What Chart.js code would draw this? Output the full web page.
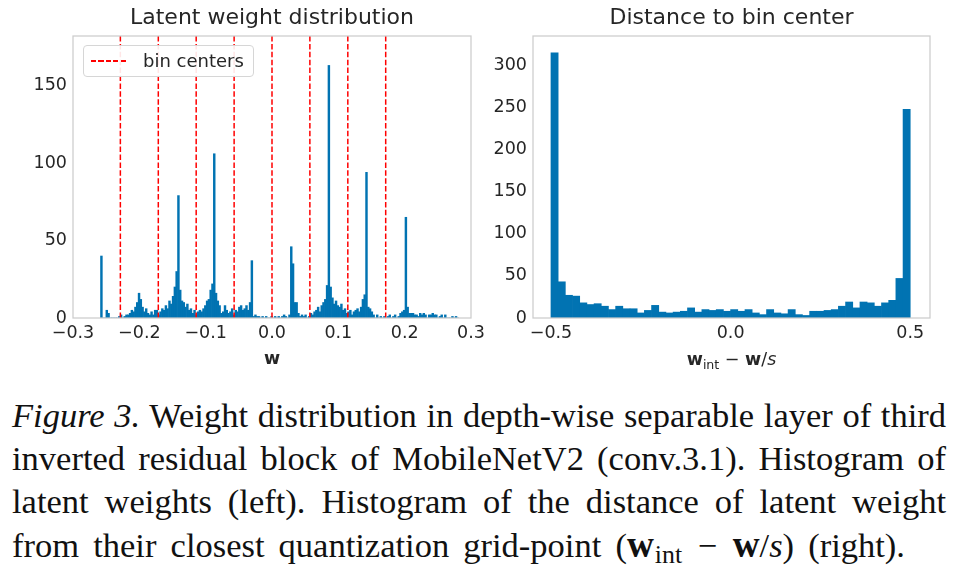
<!DOCTYPE html>
<html>
<head>
<meta charset="utf-8">
<script src="https://cdn.jsdelivr.net/npm/chart.js@4.4.1/dist/chart.umd.min.js"></script>
<style>
  body { margin: 0; width: 958px; height: 574px; background: #fff; position: relative; overflow: hidden; font-family: "DejaVu Sans"; color: #262626; }
  canvas { position: absolute; top: 0; }
  #leftChart { left: 0; }
  #rightChart { left: 490px; }
  .title { position: absolute; top: 4px; height: 26px; line-height: 26px; text-align: center; font-size: 22px; white-space: nowrap; }
  .legend { position: absolute; left: 83px; top: 45px; width: 169px; height: 30px; border: 1px solid #d6d6d6; border-radius: 4px; background: rgba(255,255,255,0.9); }
  .legend .sample { position: absolute; left: 7px; top: 14px; width: 37px; height: 1.6px;
    background: repeating-linear-gradient(to right, #ff0000 0 5.2px, transparent 5.2px 7.4px); }
  .legend .txt { position: absolute; left: 59px; top: 2px; line-height: 26px; font-size: 18px; }
  #rxlabel { position: absolute; left: 533px; width: 397px; top: 348px; text-align: center; font-size: 17.5px; line-height: 22px; }
  #rxlabel sub { font-size: 0.72em; vertical-align: -0.3em; line-height: 0; }
  .caption { position: absolute; left: 12px; top: 394px; width: 934px; font-family: "Liberation Serif"; font-size: 34.5px; line-height: 43px; color: #111; }
  .caption div { white-space: nowrap; text-align: justify; text-align-last: justify; }
  .caption div.last { width: 893px; }
  .caption sub { font-size: 0.75em; vertical-align: -0.25em; line-height: 0; margin-left: 0.04em; }
  .caption .op { display: inline-block; padding: 0 0.45em; }
  .caption .fb { font-size: 1.08em; }
</style>
</head>
<body>
<canvas id="leftChart" width="490" height="372"></canvas>
<canvas id="rightChart" width="468" height="372"></canvas>

<div class="title" style="left:73px; width:398px;">Latent weight distribution</div>
<div class="title" style="left:533px; width:397px;">Distance to bin center</div>

<div class="legend"><div class="sample"></div><div class="txt">bin centers</div></div>

<div id="rxlabel"><b>w</b><sub>int</sub> − <b>w</b>/<i>s</i></div>

<div class="caption">
  <div><i>Figure 3.</i> Weight distribution in depth-wise separable layer of third</div>
  <div>inverted residual block of MobileNetV2 (conv.3.1). Histogram of</div>
  <div>latent weights (left). Histogram of the distance of latent weight</div>
  <div class="last">from their closest quantization grid-point (<b class="fb">w</b><sub>int</sub><span class="op">−</span><b class="fb">w</b>/<i>s</i>) (right).</div>
</div>

<script>
// ===============================
// DATA
// ===============================
// left: latent weight histogram (200 bins)
const leftBinStart = -0.2585;
const leftBinWidth = 0.0027;
const leftCounts = [
  40, 0, 0, 5, 3, 0, 0, 0, 0, 0,
  1, 2, 0, 1, 2, 2, 3, 5, 4, 7,
  10, 16, 12, 7, 4, 6, 3, 2, 4, 2,
  5, 5, 2, 4, 6, 5, 8, 6, 11, 9,
  14, 20, 30, 79, 18, 11, 10, 7, 9, 5,
  6, 3, 5, 2, 4, 5, 4, 6, 8, 11,
  12, 18, 22, 106, 16, 11, 8, 3, 4, 8,
  5, 3, 4, 6, 2, 5, 4, 7, 8, 5,
  6, 8, 5, 10, 37, 1, 2, 1, 1, 0,
  1, 0, 1, 0, 0, 1, 0, 1, 0, 1,
  0, 1, 2, 1, 0, 2, 46, 35, 10, 10,
  3, 1, 2, 1, 2, 0, 1, 3, 2, 4,
  5, 7, 4, 8, 10, 12, 21, 163, 20, 13,
  9, 11, 8, 7, 9, 5, 6, 3, 4, 5,
  2, 4, 5, 6, 4, 7, 12, 15, 94, 7,
  6, 4, 2, 0, 2, 0, 1, 0, 1, 0,
  1, 2, 0, 1, 2, 0, 1, 3, 4, 5,
  65, 7, 3, 3, 3, 2, 2, 1, 3, 2,
  3, 2, 0, 2, 2, 3, 2, 2, 0, 1,
  2, 0, 2, 0, 0, 0, 1, 0, 1, 0
];
const binCenters = [-0.2286, -0.1714, -0.1143, -0.0571, 0, 0.0571, 0.1143, 0.1714];
const leftXTicks = [-0.3, -0.2, -0.1, 0, 0.1, 0.2, 0.3];
const leftYTicks = [0, 50, 100, 150];
const leftXMin = -0.3, leftXMax = 0.3, leftYMax = 182;

// right: distance to bin center (50 bins)
const rightBinStart = -0.5;
const rightBinWidth = 0.02;
const rightCounts = [
  315, 43, 27, 26, 18, 16, 17, 14, 10, 14,
  11, 11, 6, 9, 15, 7, 6, 7, 8, 12,
  7, 10, 9, 10, 8, 10, 8, 10, 6, 4,
  10, 6, 5, 10, 4, 3, 8, 8, 9, 10,
  14, 19, 12, 19, 18, 14, 18, 21, 47, 248
];
const rightXTicks = [-0.5, 0, 0.5];
const rightYTicks = [0, 50, 100, 150, 200, 250, 300];
const rightXMin = -0.55, rightXMax = 0.555, rightYMax = 335;

const barColor = "#0173b2";
const textColor = "#262626";

Chart.defaults.font.family = "DejaVu Sans";
Chart.defaults.color = textColor;

// ===============================
// HELPERS
// ===============================
function fmt(v) {
  if (Math.abs(v) < 1e-9) return "0.0";
  return (v < 0 ? "\u2212" : "") + Math.abs(v).toFixed(1);
}

function histPoints(start, width, counts) {
  return counts.map((c, i) => ({ x: start + (i + 0.5) * width, y: c }));
}

const framePlugin = {
  id: "frame",
  afterDatasetsDraw(chart) {
    const { ctx, chartArea: a } = chart;
    ctx.save();
    ctx.strokeStyle = "#cccccc";
    ctx.lineWidth = 1.25;
    ctx.strokeRect(a.left, a.top, a.right - a.left, a.bottom - a.top);
    ctx.restore();
  },
};

function makeScales(xMin, xMax, xTicks, yMax, yTicks, yWidth, xHeight, xTitle) {
  return {
    x: {
      type: "linear",
      min: xMin,
      max: xMax,
      offset: false,
      grid: { display: false, drawTicks: false },
      border: { display: false },
      afterBuildTicks: (s) => { s.ticks = xTicks.map((v) => ({ value: v })); },
      afterFit: (s) => { s.height = xHeight; },
      ticks: { font: { size: 17.5 }, padding: 5, maxRotation: 0, autoSkip: false, callback: (v) => fmt(v) },
      title: xTitle
        ? { display: true, text: xTitle, font: { size: 17.5, weight: "bold" }, padding: { top: 0, bottom: 2 } }
        : { display: false },
    },
    y: {
      min: 0,
      max: yMax,
      grid: { display: false, drawTicks: false },
      border: { display: false },
      afterBuildTicks: (s) => { s.ticks = yTicks.map((v) => ({ value: v })); },
      afterFit: (s) => { s.width = yWidth; },
      ticks: { font: { size: 17.5 }, padding: 6 },
    },
  };
}

// ===============================
// LEFT CHART
// ===============================
const leftDatasets = [
  {
    type: "bar",
    label: "w",
    data: histPoints(leftBinStart, leftBinWidth, leftCounts),
    backgroundColor: barColor,
    borderWidth: 0,
    barPercentage: 1,
    categoryPercentage: 1,
    order: 2,
  },
];
binCenters.forEach((c) => {
  leftDatasets.push({
    type: "line",
    label: "bin centers",
    data: [{ x: c, y: 0 }, { x: c, y: leftYMax }],
    borderColor: "#ff0000",
    borderWidth: 1.5,
    borderDash: [5.5, 2.4],
    pointRadius: 0,
    order: 1,
  });
});

new Chart(document.getElementById("leftChart"), {
  type: "bar",
  data: { datasets: leftDatasets },
  options: {
    responsive: false,
    animation: false,
    layout: { padding: { top: 36, right: 19, left: 0, bottom: 0 } },
    plugins: { legend: { display: false }, tooltip: { enabled: false } },
    scales: makeScales(leftXMin, leftXMax, leftXTicks, leftYMax, leftYTicks, 73, 54, "w"),
  },
  plugins: [framePlugin],
});

// ===============================
// RIGHT CHART
// ===============================
new Chart(document.getElementById("rightChart"), {
  type: "bar",
  data: {
    datasets: [
      {
        label: "distance",
        data: histPoints(rightBinStart, rightBinWidth, rightCounts),
        backgroundColor: barColor,
        borderWidth: 0,
        barPercentage: 1,
        categoryPercentage: 1,
      },
    ],
  },
  options: {
    responsive: false,
    animation: false,
    layout: { padding: { top: 36, right: 28, left: 0, bottom: 0 } },
    plugins: { legend: { display: false }, tooltip: { enabled: false } },
    scales: makeScales(rightXMin, rightXMax, rightXTicks, rightYMax, rightYTicks, 43, 54, null),
  },
  plugins: [framePlugin],
});
</script>
</body>
</html>
